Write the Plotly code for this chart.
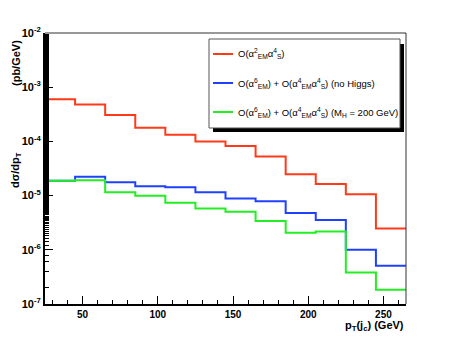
import plotly.graph_objects as go

# ======================================
# Datos
# ======================================

bin_edges = [25, 45, 65, 85, 105, 125, 145, 165, 185, 205, 225, 245, 265]

qcd_em2_s4 = [6.0e-4, 4.8e-4, 3.07e-4, 1.79e-4, 1.33e-4, 1.0e-4,
              8.2e-5, 5.27e-5, 2.48e-5, 1.64e-5, 1.06e-5, 2.48e-6]
ew_no_higgs = [1.87e-5, 2.22e-5, 1.77e-5, 1.49e-5, 1.43e-5, 1.15e-5,
               8.8e-6, 7.85e-6, 4.77e-6, 3.55e-6, 1.0e-6, 5.06e-7]
ew_mh200 = [1.87e-5, 1.92e-5, 1.15e-5, 9.9e-6, 7.4e-6, 5.8e-6,
            5.06e-6, 3.4e-6, 2.07e-6, 2.18e-6, 3.8e-7, 1.84e-7]

y_tick_vals = [1e-7, 1e-6, 1e-5, 1e-4, 1e-3, 1e-2]
y_tick_text = ["10<sup>-7</sup>", "10<sup>-6</sup>", "10<sup>-5</sup>",
               "10<sup>-4</sup>", "10<sup>-3</sup>", "10<sup>-2</sup>"]
x_tick_vals = [50, 100, 150, 200, 250]

labels = [
    "O(α<sup>2</sup><sub>EM</sub>α<sup>4</sup><sub>S</sub>)",
    "O(α<sup>6</sup><sub>EM</sub>) + O(α<sup>4</sup><sub>EM</sub>α<sup>4</sup><sub>S</sub>) (no Higgs)",
    "O(α<sup>6</sup><sub>EM</sub>) + O(α<sup>4</sup><sub>EM</sub>α<sup>4</sup><sub>S</sub>) (M<sub>H</sub> = 200 GeV)",
]
colors = ["#ff3a18", "#2040ff", "#22ee22"]
series = [qcd_em2_s4, ew_no_higgs, ew_mh200]

# ======================================
# Geometría (en píxeles de la ventana)
# ======================================
OFF = 8                     # margen por defecto del <body>
W, H = 452 - OFF, 338 - OFF
L, R, T, B = 45, 406, 33, 304


def px(x):
    return (x - L) / (R - L)


def py(y):
    return (B - y) / (B - T)


fig = go.Figure()

for vals, col, lab in zip(series, colors, labels):
    fig.add_trace(go.Scatter(
        x=bin_edges, y=vals + [vals[-1]],
        mode="lines", line=dict(color=col, width=2, shape="hv"),
        name=lab, showlegend=False,
    ))

font = "Liberation Sans, Arial, sans-serif"

# Leyenda manual con sombra
shapes = [
    dict(type="rect", xref="paper", yref="paper",
         x0=px(213), x1=px(404), y0=py(132), y1=py(44),
         fillcolor="black", line=dict(width=0), layer="above"),
    dict(type="rect", xref="paper", yref="paper",
         x0=px(209), x1=px(400), y0=py(128), y1=py(39),
         fillcolor="white", line=dict(color="#555555", width=1), layer="above"),
]
annotations = []
for i, (col, lab) in enumerate(zip(colors, labels)):
    yy = 54 + i * 29
    shapes.append(dict(type="line", xref="paper", yref="paper",
                       x0=px(213), x1=px(233), y0=py(yy), y1=py(yy),
                       line=dict(color=col, width=2), layer="above"))
    annotations.append(dict(xref="paper", yref="paper", x=px(236), y=py(yy),
                            xanchor="left", yanchor="middle", showarrow=False,
                            text=lab, font=dict(family=font, size=9.5, color="black")))

# Títulos de ejes
annotations += [
    dict(xref="paper", yref="paper", x=px(406), y=py(326),
         xanchor="right", yanchor="middle", showarrow=False,
         text="p<sub>T</sub>(j<sub>c</sub>) (GeV)",
         font=dict(family=font, size=11, color="black", weight="bold")),
    dict(xref="paper", yref="paper", x=px(16), y=py(63),
         xanchor="center", yanchor="middle", showarrow=False, textangle=-90,
         text="(pb/GeV)",
         font=dict(family=font, size=11, color="black", weight="bold")),
    dict(xref="paper", yref="paper", x=px(16), y=py(170),
         xanchor="center", yanchor="middle", showarrow=False, textangle=-90,
         text="dσ/dp<sub>T</sub>",
         font=dict(family=font, size=11, color="black", weight="bold")),
]

fig.update_layout(
    width=W, height=H,
    margin=dict(l=L - OFF, r=W + OFF - R, t=T - OFF, b=H + OFF - B, pad=0),
    paper_bgcolor="white", plot_bgcolor="white",
    shapes=shapes, annotations=annotations,
    showlegend=False,
)

fig.update_xaxes(
    range=[25, 265], tickvals=x_tick_vals, ticks="inside", ticklen=8,
    tickcolor="black", tickwidth=1,
    minor=dict(dtick=10, tick0=0, ticks="inside", ticklen=4, tickcolor="black"),
    showline=True, linecolor="black", linewidth=2, mirror=False,
    showgrid=False, zeroline=False,
    tickfont=dict(family=font, size=10, color="black", weight="bold"),
)
fig.update_yaxes(
    type="log", range=[-7, -2], tickvals=y_tick_vals, ticktext=y_tick_text,
    ticks="inside", ticklen=8, tickcolor="black", tickwidth=1,
    minor=dict(ticks="inside", ticklen=4, tickcolor="black"),
    showline=True, linecolor="black", linewidth=2, mirror=False,
    showgrid=False, zeroline=False,
    tickfont=dict(family=font, size=11, color="black", weight="bold"),
)

# Marco superior y derecho fino
fig.add_shape(type="line", xref="paper", yref="paper", x0=0, x1=1, y0=1, y1=1,
              line=dict(color="#333333", width=1))
fig.add_shape(type="line", xref="paper", yref="paper", x0=1, x1=1, y0=0, y1=1,
              line=dict(color="#333333", width=1))

fig.write_html("out.html")
